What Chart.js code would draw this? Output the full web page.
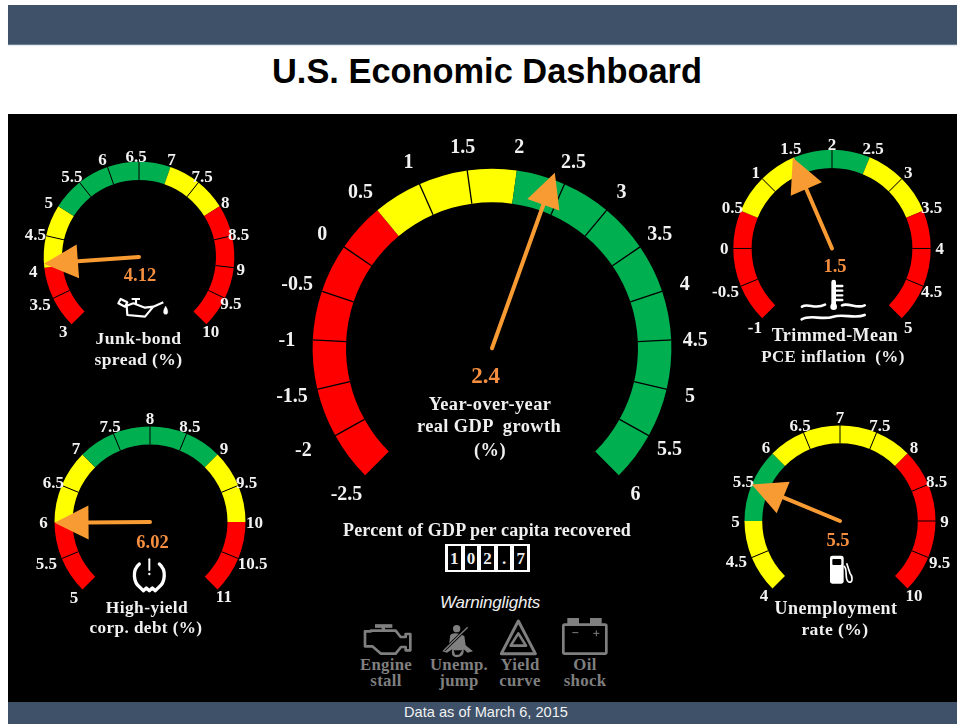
<!DOCTYPE html>
<html>
<head>
<meta charset="utf-8">
<title>U.S. Economic Dashboard</title>
<script src="https://cdn.jsdelivr.net/npm/chart.js@4/dist/chart.umd.min.js"></script>
<style>
html,body{margin:0;padding:0;background:#fff;width:957px;height:724px;overflow:hidden}
.abs{position:absolute}
#header{left:8px;top:5px;width:949px;height:39px;background:#3e5168;border-bottom:1px solid #6f7f92;box-shadow:0 1px 1px #e6e9f2}
#title{left:8px;width:958px;top:50px;text-align:center;font:bold 34.4px/42px "Liberation Sans",Arial,sans-serif;color:#000}
#panel{left:8px;top:114px;width:949px;height:588px;background:#000}
#footer{left:8px;top:702px;width:949px;height:22px;background:#3e5168}
#foot{left:0;width:972px;top:704px;text-align:center;font:14.6px/16px "Liberation Sans",Arial,sans-serif;color:#f2f2f2}
canvas{position:absolute}
.cap{position:absolute;transform:translate(-50%,-50%);white-space:nowrap;font-family:"Liberation Serif",serif;font-weight:bold;color:#f0f0f0;text-align:center}
.grey{color:#7f7f7f;font-size:16.8px;letter-spacing:.3px}
.cell{position:absolute;top:0;height:24px;border:2px solid #fff;background:#000;box-sizing:content-box;color:#eee;font:bold 17px/25px "Liberation Serif",serif;text-align:center}
svg{position:absolute;left:0;top:0}
</style>
</head>
<body>
<div class="abs" id="header"></div>
<div class="abs" id="title">U.S. Economic Dashboard</div>
<div class="abs" id="panel"></div>
<div class="abs" id="footer"></div>
<div class="abs" id="foot">Data as of March 6, 2015</div>
<div id="stage"></div>
<script>
// ---- data ----
const gdpTicks   = [-2.5,-2,-1.5,-1,-0.5,0,0.5,1,1.5,2,2.5,3,3.5,4,4.5,5,5.5,6];
const gdpZones   = ['bad','bad','bad','bad','bad','bad','warn','warn','warn','ok','ok','ok','ok','ok','ok','ok','ok'];
const gdpReading = '2.4';
const gdpPointer = 2.37;

const junkTicks   = [3,3.5,4,4.5,5,5.5,6,6.5,7,7.5,8,8.5,9,9.5,10];
const junkZones   = ['bad','bad','warn','warn','ok','ok','ok','ok','warn','warn','bad','bad','bad','bad'];
const junkReading = '4.12';
const junkPointer = 4.06;

const trimTicks   = [-1,-0.5,0,0.5,1,1.5,2,2.5,3,3.5,4,4.5,5];
const trimZones   = ['bad','bad','bad','warn','warn','ok','ok','warn','warn','bad','bad','bad'];
const trimReading = '1.5';
const trimPointer = 1.48;

const yieldTicks   = [5,5.5,6,6.5,7,7.5,8,8.5,9,9.5,10,10.5,11];
const yieldZones   = ['bad','bad','warn','warn','ok','ok','ok','ok','warn','warn','bad','bad'];
const yieldReading = '6.02';
const yieldPointer = 5.99;

const unempTicks   = [4,4.5,5,5.5,6,6.5,7,7.5,8,8.5,9,9.5,10];
const unempZones   = ['warn','warn','ok','ok','warn','warn','warn','warn','bad','bad','bad','bad'];
const unempReading = '5.5';
const unempPointer = 5.5;

const recovered = ['1','0','2','.','7'];

// ---- styling and layout ----
const zoneColors = {bad:'#ff0000',warn:'#ffff00',ok:'#00b050'};
const ARROW = '#f99b33', VALUE = '#f58f3f';

const gauges = [
 {id:'gdp',  ticks:gdpTicks,  zones:gdpZones,  reading:gdpReading,  pointer:gdpPointer,  cx:491.7,cy:348.5,r:179.4,inner:146,labelGap:25,font:20,valueFont:23,valueAt:[485.7,377],tipExtra:7,size:500,tick:1.3,shift:[-1,2],nudge:{'-2':[-9,1]}},
 {id:'junk', ticks:junkTicks, zones:junkZones, reading:junkReading, pointer:junkPointer, cx:138.5,cy:257,r:95.3,inner:77,labelGap:9,font:17,valueFont:18.5,valueAt:[140,276.5],tipExtra:0,size:280,tick:1,shift:[-2,2],nudge:{'6.5':[-1,3],'3.5':[-3,1],'4':[0,2]}},
 {id:'trim', ticks:trimTicks, zones:trimZones, reading:trimReading, pointer:trimPointer, cx:832,cy:248.5,r:98.7,inner:80.4,labelGap:9,font:17,valueFont:18.5,valueAt:[835,267],tipExtra:0,size:280,tick:1,shift:[0,1],nudge:{'2':[0,4],'-0.5':[-7,2],'4.5':[0,2],'-1':[-1,3],'5':[0,3]}},
 {id:'yield',ticks:yieldTicks,zones:yieldZones,reading:yieldReading,pointer:yieldPointer,cx:149.5,cy:522,r:95.5,inner:77.5,labelGap:9,font:17,valueFont:18.5,valueAt:[152.5,543],tipExtra:0,size:280,tick:1,shift:[0,2],nudge:{'5.5':[-7,1],'10.5':[6,1],'5':[-2,1],'6':[-2,0]}},
 {id:'unemp',ticks:unempTicks,zones:unempZones,reading:unempReading,pointer:unempPointer,cx:839.7,cy:521,r:95.5,inner:77.8,labelGap:9,font:17,valueFont:18.5,valueAt:[838,541.5],tipExtra:0,size:280,tick:1,shift:[0,2],nudge:{'4.5':[-7,0],'9.5':[3,1],'4':[-2,0]}}
];

const gaugePlugin = {
  id:'gaugeDressing',
  afterDatasetsDraw(chart){
    const g = chart.options.plugins.gaugeDressing.gauge;
    const arcs = chart.getDatasetMeta(0).data;
    const ctx = chart.ctx, X = arcs[0].x, Y = arcs[0].y;
    const R = arcs[0].outerRadius, Ri = arcs[0].innerRadius;
    const a0 = arcs[0].startAngle, a1 = arcs[arcs.length-1].endAngle;
    ctx.save();
    // tick separators between equal-coloured cells
    ctx.strokeStyle = '#000'; ctx.lineWidth = g.tick;
    arcs.forEach((arc,i)=>{
      if(i===0 || g.zones[i]!==g.zones[i-1]) return;
      const a = arc.startAngle;
      ctx.beginPath();
      ctx.moveTo(X+Ri*Math.cos(a),Y+Ri*Math.sin(a));
      ctx.lineTo(X+(R+.5)*Math.cos(a),Y+(R+.5)*Math.sin(a));
      ctx.stroke();
    });
    // tick labels
    ctx.fillStyle = '#f2f2f2';
    ctx.font = 'bold '+g.font+'px "Liberation Serif", serif';
    ctx.textAlign = 'center'; ctx.textBaseline = 'middle';
    g.ticks.forEach((t,i)=>{
      const a = i<arcs.length ? arcs[i].startAngle : a1;
      const d = R+g.labelGap;
      const n = g.nudge[String(t)] || [0,0];
      ctx.fillText(String(t),X+d*Math.cos(a)+g.shift[0]+n[0],Y+d*Math.sin(a)+g.shift[1]+n[1]);
    });
    // reading
    ctx.fillStyle = VALUE;
    ctx.font = 'bold '+g.valueFont+'px "Liberation Serif", serif';
    ctx.fillText(g.reading,g.valueAt[0]-chart.canvas.offsetLeft,g.valueAt[1]-chart.canvas.offsetTop);
    // needle
    const lo = g.ticks[0], hi = g.ticks[g.ticks.length-1];
    const ang = a0+(g.pointer-lo)/(hi-lo)*(a1-a0);
    const tip = R+g.tipExtra, head = 34, half = 17;
    const ux = Math.cos(ang), uy = Math.sin(ang);
    ctx.strokeStyle = ARROW; ctx.lineWidth = 4; ctx.lineCap = 'round';
    ctx.beginPath(); ctx.moveTo(X,Y); ctx.lineTo(X+(tip-head)*ux,Y+(tip-head)*uy); ctx.stroke();
    ctx.fillStyle = ARROW;
    ctx.beginPath();
    ctx.moveTo(X+tip*ux,Y+tip*uy);
    ctx.lineTo(X+(tip-head)*ux-half*uy,Y+(tip-head)*uy+half*ux);
    ctx.lineTo(X+(tip-head)*ux+half*uy,Y+(tip-head)*uy-half*ux);
    ctx.closePath(); ctx.fill();
    ctx.restore();
  }
};

const stage = document.getElementById('stage');
gauges.forEach(g=>{
  const cv = document.createElement('canvas');
  cv.width = g.size; cv.height = g.size;
  stage.appendChild(cv);
  const widths = g.ticks.slice(1).map((t,i)=>t-g.ticks[i]);
  const chart = new Chart(cv,{
    type:'doughnut',
    data:{labels:g.zones.map((z,i)=>g.ticks[i]+'–'+g.ticks[i+1]),
      datasets:[{data:widths,backgroundColor:g.zones.map(z=>zoneColors[z]),borderWidth:0,spacing:0}]},
    options:{
      responsive:false,animation:false,rotation:-135,circumference:270,
      radius:g.r,cutout:(g.inner/g.r*100)+'%',
      layout:{padding:0},
      plugins:{legend:{display:false},tooltip:{enabled:false},gaugeDressing:{gauge:g}}
    },
    plugins:[gaugePlugin]
  });
  const arc = chart.getDatasetMeta(0).data[0];
  cv.style.left = (g.cx-arc.x)+'px';
  cv.style.top  = (g.cy-arc.y)+'px';
  chart.draw();
});

// ---- captions ----
function cap(text,x,y,size,cls,extra){
  const d = document.createElement('div');
  d.className = 'cap '+(cls||'');
  d.textContent = text;
  d.style.left = x+'px'; d.style.top = y+'px';
  if(size) d.style.fontSize = size+'px';
  if(extra) Object.assign(d.style,extra);
  document.body.appendChild(d);
}
const wide = {letterSpacing:'.4px'};
const pre = {letterSpacing:'.4px',whiteSpace:'pre'};
cap('Junk-bond',138.5,337.5,17.6,'',wide); cap('spread (%)',138.5,358.5,17.6,'',wide);
cap('Trimmed-Mean',835,335,18,'',wide); cap('PCE inflation  (%)',833,357,17,'',pre);
cap('High-yield',147,607,17.4,'',wide); cap('corp. debt (%)',146,628,17.2,'',wide);
cap('Unemployment',836,608,18,'',wide); cap('rate (%)',835,629,17.6,'',wide);
cap('Year-over-year',490,404,18.4,'',wide); cap('real GDP  growth',489,426,18.4,'',pre); cap('(%)',490,450,18.4,'',wide);
cap('Percent of GDP per capita recovered',487,530,18,'',{letterSpacing:'.2px'});
cap('Warning lights',490,603,17,'',{fontFamily:'"Liberation Sans",Arial,sans-serif',fontStyle:'italic',fontWeight:'normal',wordSpacing:'-4.5px',letterSpacing:'-.2px'});
[['Engine','stall',386],['Unemp.','jump',459],['Yield','curve',520],['Oil','shock',585]].forEach(c=>{
  cap(c[0],c[2],665,0,'grey'); cap(c[1],c[2],681,0,'grey');
});

// odometer
const odo = document.createElement('div');
odo.className='abs';
odo.style.cssText='left:445px;top:544px;width:85px;height:28px;background:#fff;';
recovered.forEach((ch,i)=>{
  const c = document.createElement('div');
  c.className='cell'; c.textContent=ch;
  c.style.left=(1+i*16.6)+'px'; c.style.top='0px'; c.style.width='12.6px';
  odo.appendChild(c);
});
document.body.appendChild(odo);
</script>

<!-- pictograms -->
<svg width="957" height="724" viewBox="0 0 957 724" fill="none">
  <!-- oil can -->
  <g transform="translate(100,285) scale(.33333)" stroke="#fff" stroke-width="6.5" stroke-linejoin="round">
    <path d="M62,42 L55,55 L75,65 L82,52 Z M80,62 L82,90 L135,95 L160,65 L190,52 M80,62 L100,55 L135,68 L160,65 M95,42 H120 M108,42 V56"/>
    <path d="M197,63 C190,74 187,88 197,88 C207,88 204,74 197,63 Z" fill="#fff" stroke-width="1"/>
  </g>
  <!-- coolant thermometer -->
  <g transform="translate(700,130) scale(.33333)" stroke="#fff" stroke-width="8" stroke-linecap="round">
    <path d="M401,456 V530" stroke-width="14"/>
    <circle cx="401" cy="530" r="10" fill="#fff" stroke="none"/>
    <path d="M408,468 H427 M408,482 H427 M408,496 H427 M408,510 H427" stroke-width="7"/>
    <path d="M306,530 C325,518 345,540 375,524 M426,526 C445,516 470,538 494,526"/>
    <path d="M305,568 C335,552 365,572 400,560 C430,550 465,568 494,555"/>
  </g>
  <!-- tyre pressure -->
  <g transform="translate(0,400) scale(.33333)" stroke="#fff" stroke-width="10" stroke-linecap="round" stroke-linejoin="round">
    <path d="M418,492 C396,510 400,548 420,562 L430,572 L439,564 L448,572 L457,564 L466,572 L476,562 C496,548 500,510 478,492"/>
    <path d="M448,478 L448,510" stroke-width="6"/>
    <circle cx="448" cy="522" r="3.5" fill="#fff" stroke="none"/>
  </g>
  <!-- fuel pump -->
  <g transform="translate(700,400) scale(.33333)">
    <rect x="390" y="467" width="41" height="84" rx="7" fill="#fff"/>
    <rect x="397" y="477" width="27" height="18" rx="3" fill="#000"/>
    <path d="M431,498 C445,505 432,535 445,545 C460,552 458,528 450,520 L440,490" stroke="#fff" stroke-width="5" fill="none"/>
  </g>
  <!-- warning lights -->
  <g transform="translate(355,612) scale(.33333)" stroke="#7f7f7f" stroke-width="8" stroke-linejoin="round">
    <path d="M60,42 H112" stroke-width="11"/>
    <path d="M85,42 V56" stroke-width="10"/>
    <path d="M48,56 H122 L137,75 H152 V66 H166 V115 H152 V105 H138 L122,125 H78 L52,103 H30 V58 H48 Z"/>
    <circle cx="305" cy="50" r="11" fill="#7f7f7f" stroke="none"/>
    <path d="M286,68 Q305,58 328,72 L332,100 L354,118 L338,122 L326,112 Q330,134 305,136 Q285,134 292,112 L276,122 L262,118 L282,96 Z" fill="#7f7f7f" stroke="none"/>
    <path d="M300,128 H312 L322,115 H296 Z" fill="#000" stroke="none"/>
    <path d="M338,46 L268,114" stroke="#000" stroke-width="9"/>
    <path d="M338,46 L268,114" stroke="#7f7f7f" stroke-width="4"/>
    <path d="M490,27 L541,125 H439 Z" stroke-width="9"/>
    <path d="M490,64 L513,101 H467 Z"/>
    <rect x="625" y="38" width="129" height="87" rx="4"/>
    <rect x="637" y="18" width="35" height="20" fill="#7f7f7f" stroke="none"/>
    <rect x="705" y="18" width="35" height="20" fill="#7f7f7f" stroke="none"/>
    <path d="M652,62 H670 M715,64 H733 M724,55 V73" stroke-width="3"/>
  </g>
</svg>
</body>
</html>
